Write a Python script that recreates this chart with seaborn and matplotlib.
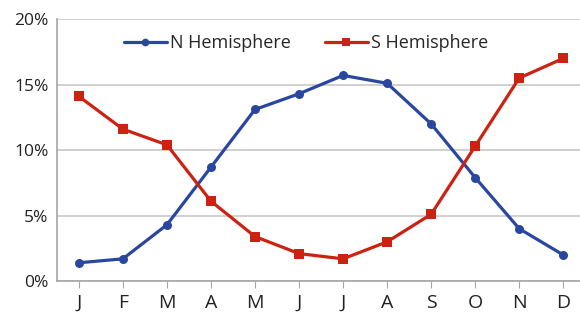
import numpy as np
import pandas as pd
import matplotlib.pyplot as plt
import seaborn as sns
from matplotlib.ticker import PercentFormatter

# Monthly share of the year's total, per hemisphere
months = ['J', 'F', 'M', 'A', 'M', 'J', 'J', 'A', 'S', 'O', 'N', 'D']
n_hemisphere = [1.4, 1.7, 4.3, 8.7, 13.1, 14.3, 15.7, 15.1, 12.0, 7.9, 4.0, 2.0]
s_hemisphere = [14.1, 11.6, 10.4, 6.1, 3.4, 2.1, 1.7, 3.0, 5.1, 10.3, 15.5, 17.0]

df = pd.DataFrame({
    'month': np.arange(len(months)),
    'N Hemisphere': n_hemisphere,
    'S Hemisphere': s_hemisphere,
})
long_df = df.melt(id_vars='month', var_name='series', value_name='pct')

sns.set_style('white')
plt.rcParams['font.family'] = ['Open Sans', 'DejaVu Sans']

fig = plt.figure(figsize=(5.8, 3.18), dpi=100)
ax = fig.add_axes([0.098, 0.116, 0.902, 0.824])

sns.lineplot(data=long_df, x='month', y='pct', hue='series', style='series',
             palette={'N Hemisphere': '#2A47A0', 'S Hemisphere': '#CC2212'},
             markers={'N Hemisphere': 'o', 'S Hemisphere': 's'},
             dashes=False, linewidth=2.3, markersize=6.5, markeredgewidth=0,
             ax=ax)

ax.set_xlim(-0.5, 11.38)
ax.set_ylim(0, 20)
ax.set_yticks([0, 5, 10, 15, 20])
ax.yaxis.set_major_formatter(PercentFormatter(decimals=0))
ax.set_xticks(df['month'])
ax.set_xticklabels(months)
ax.set_xlabel('')
ax.set_ylabel('')

ax.grid(axis='y', color='#C8C8C8', linewidth=1.2)
ax.set_axisbelow(True)
for side in ['top', 'right']:
    ax.spines[side].set_visible(False)
ax.spines['left'].set_color('#A6A6A6')
ax.spines['bottom'].set_color('#A6A6A6')
ax.spines['left'].set_linewidth(1.2)
ax.spines['bottom'].set_linewidth(1.2)

ax.tick_params(axis='x', length=5, bottom=True, labelsize=14, pad=4,
               colors='#A6A6A6', labelcolor='#222222')
ax.tick_params(axis='y', length=0, labelsize=12.5, labelcolor='#222222', pad=6)

ax.legend(loc='upper center', bbox_to_anchor=(0.476, 1.0), ncol=2, frameon=False,
          fontsize=13, handlelength=2.4, columnspacing=1.9, handletextpad=0.15,
          borderaxespad=0.45, markerscale=0.85)

fig.savefig('out.png', dpi=100)
